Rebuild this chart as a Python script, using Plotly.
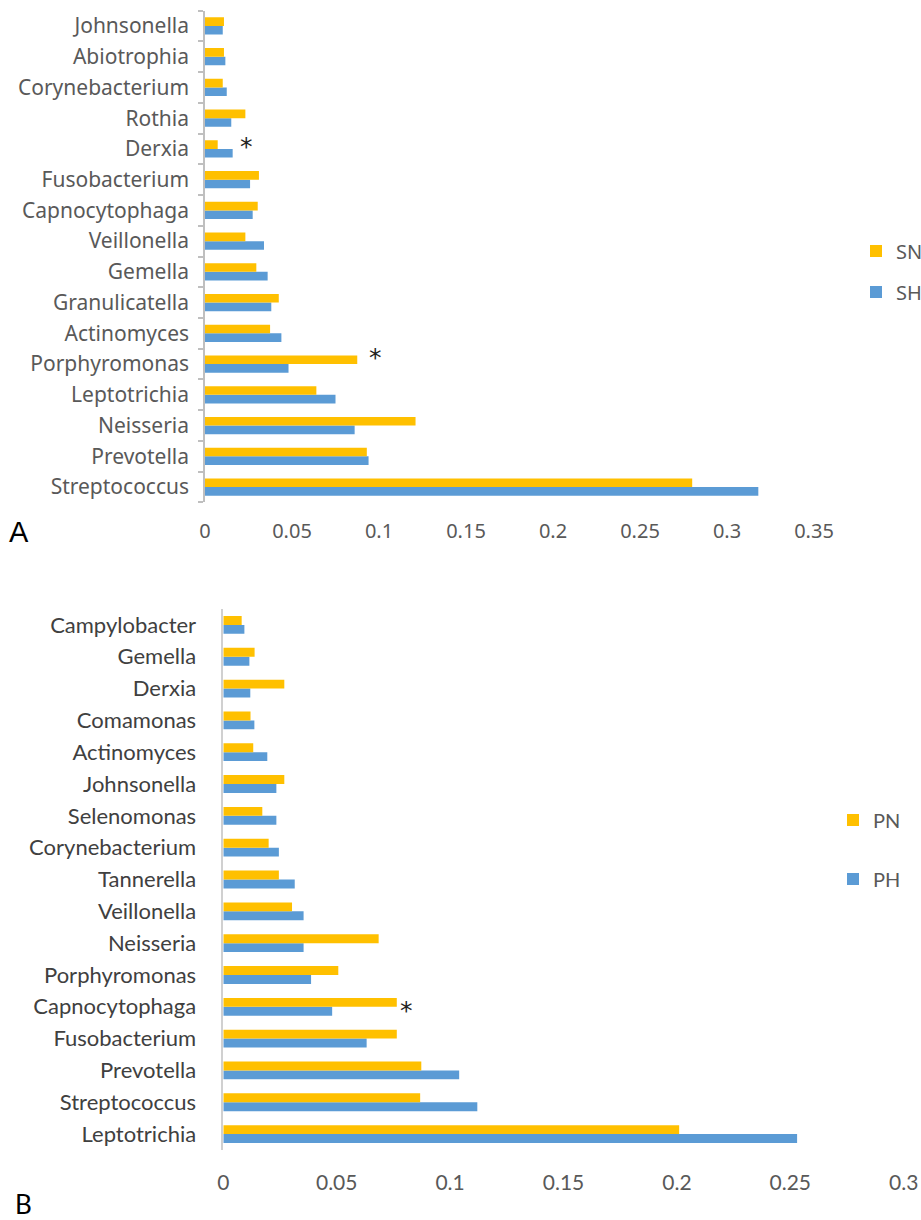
import plotly.graph_objects as go

# ---------------- Panel A data (top to bottom as drawn) ----------------
genera_a = ["Johnsonella", "Abiotrophia", "Corynebacterium", "Rothia", "Derxia",
            "Fusobacterium", "Capnocytophaga", "Veillonella", "Gemella", "Granulicatella",
            "Actinomyces", "Porphyromonas", "Leptotrichia", "Neisseria", "Prevotella",
            "Streptococcus"]
sn_values = [0.0109, 0.0109, 0.0102, 0.0232, 0.0073,
             0.0310, 0.0303, 0.0232, 0.0295, 0.0424,
             0.0374, 0.0875, 0.0640, 0.1210, 0.0930,
             0.2800]
sh_values = [0.0102, 0.0117, 0.0125, 0.0151, 0.0159,
             0.0259, 0.0274, 0.0339, 0.0360, 0.0381,
             0.0439, 0.0480, 0.0750, 0.0860, 0.0940,
             0.3180]
ticks_a = [0, 0.05, 0.1, 0.15, 0.2, 0.25, 0.3, 0.35]
tick_text_a = ["0", "0.05", "0.1", "0.15", "0.2", "0.25", "0.3", "0.35"]

# ---------------- Panel B data (top to bottom as drawn) ----------------
genera_b = ["Campylobacter", "Gemella", "Derxia", "Comamonas", "Actinomyces",
            "Johnsonella", "Selenomonas", "Corynebacterium", "Tannerella", "Veillonella",
            "Neisseria", "Porphyromonas", "Capnocytophaga", "Fusobacterium", "Prevotella",
            "Streptococcus", "Leptotrichia"]
pn_values = [0.0081, 0.0138, 0.0269, 0.0120, 0.0132,
             0.0269, 0.0172, 0.0200, 0.0245, 0.0303,
             0.0685, 0.0507, 0.0765, 0.0765, 0.0873,
             0.0868, 0.2010]
ph_values = [0.0093, 0.0115, 0.0119, 0.0137, 0.0194,
             0.0234, 0.0234, 0.0245, 0.0315, 0.0354,
             0.0354, 0.0387, 0.0480, 0.0632, 0.1040,
             0.1120, 0.2530]
ticks_b = [0, 0.05, 0.1, 0.15, 0.2, 0.25, 0.3]
tick_text_b = ["0", "0.05", "0.1", "0.15", "0.2", "0.25", "0.3"]

YELLOW = "#FFC000"
BLUE = "#5B9BD5"
FONT_A = "Noto Sans, DejaVu Sans, sans-serif"
FONT_B = "Lato, Liberation Sans, sans-serif"

fig = go.Figure()

# Panel A (first trace drawn at the bottom of each group)
fig.add_trace(go.Bar(y=genera_a, x=sh_values, name="SH", orientation="h",
                     marker=dict(color=BLUE, line=dict(width=0)),
                     xaxis="x", yaxis="y", legend="legend2"))
fig.add_trace(go.Bar(y=genera_a, x=sn_values, name="SN", orientation="h",
                     marker=dict(color=YELLOW, line=dict(width=0)),
                     xaxis="x", yaxis="y", legend="legend"))
# Panel B
fig.add_trace(go.Bar(y=genera_b, x=ph_values, name="PH", orientation="h",
                     marker=dict(color=BLUE, line=dict(width=0)),
                     xaxis="x2", yaxis="y2", legend="legend4"))
fig.add_trace(go.Bar(y=genera_b, x=pn_values, name="PN", orientation="h",
                     marker=dict(color=YELLOW, line=dict(width=0)),
                     xaxis="x2", yaxis="y2", legend="legend3"))

W, H = 921, 1220

def legend_cfg(px, py, fam):
    return dict(x=px / W, y=1 - py / H, xanchor="left", yanchor="middle",
                bgcolor="rgba(0,0,0,0)", borderwidth=0,
                font=dict(family=fam, size=20, color="#595959"))

fig.update_layout(
    width=W, height=H,
    margin=dict(l=0, r=0, t=0, b=0, autoexpand=False),
    paper_bgcolor="white", plot_bgcolor="white",
    barmode="group", bargap=0.44, bargroupgap=0,
    showlegend=True,
    legend=legend_cfg(856, 251, FONT_A),
    legend2=legend_cfg(856, 292, FONT_A),
    legend3=legend_cfg(833, 820, FONT_B),
    legend4=legend_cfg(833, 879, FONT_B),
    xaxis=dict(domain=[205 / W, 814 / W], range=[0, 0.35], anchor="y",
               automargin=False,
               tickvals=ticks_a, ticktext=tick_text_a,
               showgrid=False, zeroline=False, showline=False, ticks="",
               ticklabelstandoff=15,
               tickfont=dict(family=FONT_A, size=20, color="#595959")),
    yaxis=dict(domain=[1 - 502.4 / H, 1 - 10.6 / H], anchor="x",
               automargin=False,
               type="category", categoryorder="array", categoryarray=genera_a[::-1],
               showgrid=False, zeroline=False,
               showline=True, linecolor="#BFBFBF", linewidth=1.5,
               ticks="outside", tickson="boundaries", ticklen=5,
               tickcolor="#BFBFBF", tickwidth=1.5,
               ticklabelstandoff=10,
               tickfont=dict(family=FONT_A, size=21, color="#595959")),
    xaxis2=dict(domain=[223.3 / W, 903.7 / W], range=[0, 0.3], anchor="y2",
                automargin=False,
                tickvals=ticks_b, ticktext=tick_text_b,
                showgrid=False, zeroline=False, showline=False, ticks="",
                ticklabelstandoff=18,
                tickfont=dict(family=FONT_B, size=21, color="#595959")),
    yaxis2=dict(domain=[1 - 1150 / H, 1 - 609 / H], anchor="x2",
                automargin=False,
                type="category", categoryorder="array", categoryarray=genera_b[::-1],
                showgrid=False, zeroline=False,
                showline=True, linecolor="#D0D0D0", linewidth=1.5,
                ticks="", ticklabelstandoff=21,
                tickfont=dict(family=FONT_B, size=22, color="#404040")),
)

# Significance asterisks
fig.add_annotation(x=0.0236, y="Derxia", xref="x", yref="y", text="*",
                   showarrow=False, xanchor="center", yanchor="middle", yshift=2,
                   font=dict(family="DejaVu Sans", size=25, color="#222222"))
fig.add_annotation(x=0.0980, y="Porphyromonas", xref="x", yref="y", text="*",
                   showarrow=False, xanchor="center", yanchor="middle", yshift=7,
                   font=dict(family="DejaVu Sans", size=25, color="#222222"))
fig.add_annotation(x=0.0807, y="Capnocytophaga", xref="x2", yref="y2", text="*",
                   showarrow=False, xanchor="center", yanchor="middle", yshift=-4,
                   font=dict(family="DejaVu Sans", size=25, color="#222222"))

# Panel letters
fig.add_annotation(x=19 / W, y=1 - 532 / H, xref="paper", yref="paper", text="A",
                   showarrow=False, xanchor="center", yanchor="middle",
                   font=dict(family="Liberation Sans, Arial, sans-serif", size=29, color="#000000"))
fig.add_annotation(x=23 / W, y=1 - 1204 / H, xref="paper", yref="paper", text="B",
                   showarrow=False, xanchor="center", yanchor="middle",
                   font=dict(family="Lato, Liberation Sans, sans-serif", size=26, color="#000000"))

fig.write_html("out.html",
               config={"displayModeBar": False},
               post_script="document.body.style.margin='0';document.body.style.overflow='hidden';")
